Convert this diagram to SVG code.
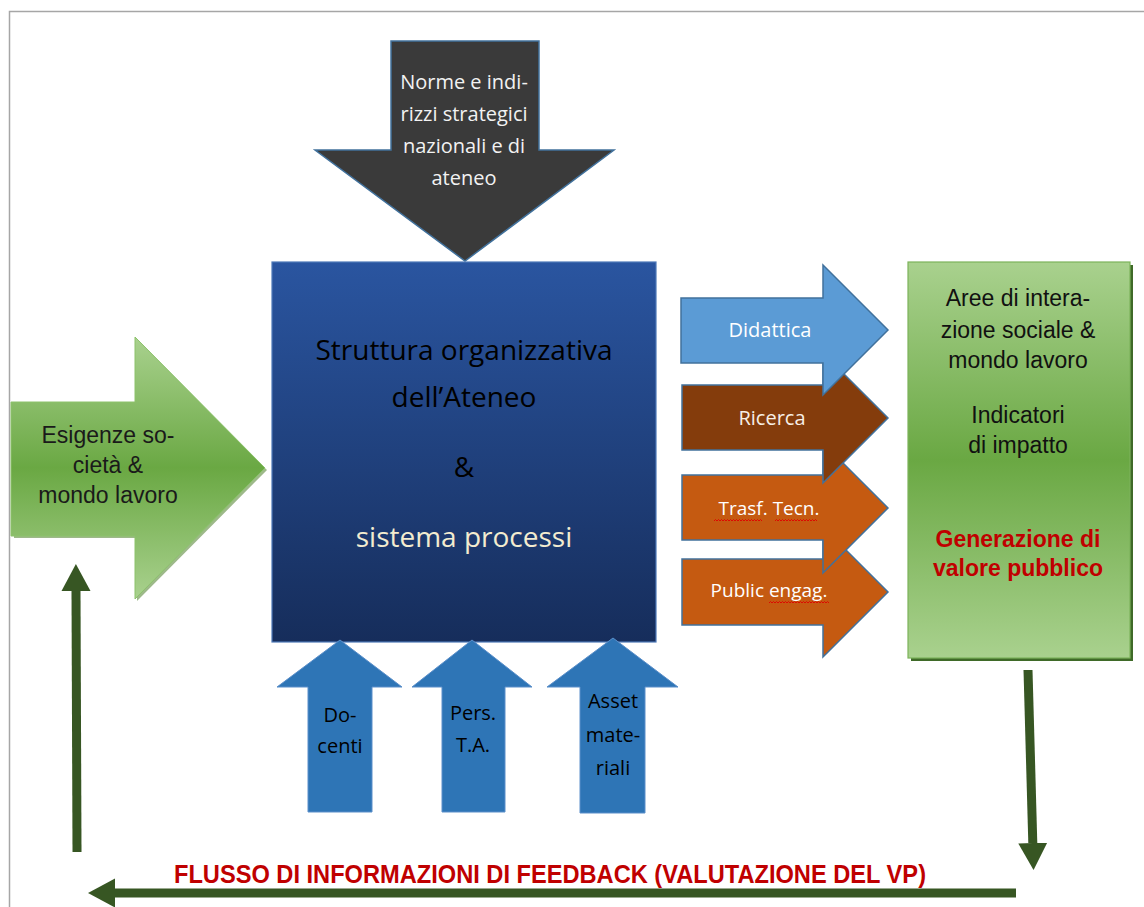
<svg xmlns="http://www.w3.org/2000/svg" width="1144" height="907" viewBox="0 0 1144 907">
<defs>
  <linearGradient id="gBlue" x1="0" y1="0" x2="0" y2="1">
    <stop offset="0" stop-color="#2a55a0"/>
    <stop offset="1" stop-color="#162d5b"/>
  </linearGradient>
  <linearGradient id="gGreen" x1="0" y1="0" x2="0" y2="1">
    <stop offset="0" stop-color="#a9d18e"/>
    <stop offset="0.5" stop-color="#6aa843"/>
    <stop offset="1" stop-color="#a9d18e"/>
  </linearGradient>
  <marker id="head" markerUnits="userSpaceOnUse" markerWidth="28" markerHeight="30" refX="0" refY="14.5" orient="auto">
    <path d="M0,0 L27,14.5 L0,29 z" fill="#375623"/>
  </marker>
  <style>
    .calibri { font-family: "Open Sans", "Noto Sans", sans-serif; }
    .arial { font-family: "Liberation Sans", Arial, sans-serif; }
    .outArrow { stroke: #41719c; stroke-width: 1.5; }
    .upArrow { fill: #2e75b6; stroke: #5b8fca; stroke-width: 1; }
    .fb { stroke: #375623; fill: none; marker-end: url(#head); }
    .squig { fill: none; stroke: #e00000; stroke-width: 0.9; }
  </style>
</defs>

<rect width="1144" height="907" fill="#ffffff"/>
<path d="M9.5,907 V11.5 H1144" fill="none" stroke="#a6a6a6" stroke-width="1.5"/>

<g id="norme">
  <polygon points="391,41 539,41 539,150 614,150 465,261 315,150 391,150" fill="#3a3a3a" stroke="#41719c" stroke-width="1.5"/>
  <g class="calibri" font-size="20" fill="#f2f2f2" text-anchor="middle">
    <text x="464" y="89">Norme e indi-</text>
    <text x="464" y="121">rizzi strategici</text>
    <text x="464" y="153">nazionali e di</text>
    <text x="464" y="185">ateneo</text>
  </g>
</g>

<g id="struttura">
  <rect x="272" y="262" width="384" height="380" fill="url(#gBlue)" stroke="#4d78b8" stroke-width="1.2"/>
  <g class="calibri" font-size="28" text-anchor="middle">
    <text x="464" y="360" fill="#000000">Struttura organizzativa</text>
    <text x="464" y="407" fill="#000000">dell’Ateneo</text>
    <text x="464" y="477" fill="#000000">&amp;</text>
    <text x="464" y="547" fill="#f3ecd0">sistema processi</text>
  </g>
</g>

<g id="esigenze">
  <polygon points="14,404 137,404 137,339 267,470 137,601 137,538 14,538" fill="#5b8a3a" opacity="0.6"/>
  <polygon points="11,402 135,402 135,337 265,468 135,599 135,536 11,536" fill="url(#gGreen)" stroke="#8cc26b" stroke-width="1"/>
  <g class="arial" font-size="23" fill="#1a1a1a" text-anchor="middle">
    <text x="108" y="443">Esigenze so-</text>
    <text x="108" y="473">cietà &amp;</text>
    <text x="108" y="503">mondo lavoro</text>
  </g>
</g>

<g id="public-engag">
  <polygon class="outArrow" points="682,559 823,559 823,527 888,592 823,657 823,625 682,625" fill="#c55a11"/>
  <text class="calibri" x="769" y="597" font-size="19" fill="#ffffff" text-anchor="middle">Public engag.</text>
  <polyline class="squig" points="769,603 770.5,601.5 772,603 773.5,601.5 775,603 776.5,601.5 778,603 779.5,601.5 781,603 782.5,601.5 784,603 785.5,601.5 787,603 788.5,601.5 790,603 791.5,601.5 793,603 794.5,601.5 796,603 797.5,601.5 799,603 800.5,601.5 802,603 803.5,601.5 805,603 806.5,601.5 808,603 809.5,601.5 811,603 812.5,601.5 814,603 815.5,601.5 817,603 818.5,601.5 820,603 821.5,601.5 823,603 824.5,601.5 826,603 827.5,601.5 829,603"/>
</g>

<g id="trasf-tecn">
  <polygon class="outArrow" points="682,475 823,475 823,443 888,508 823,573 823,540 682,540" fill="#c55a11"/>
  <text class="calibri" x="769" y="515" font-size="19" fill="#ffffff" text-anchor="middle">Trasf. Tecn.</text>
  <polyline class="squig" points="714,521 715.5,519.5 717,521 718.5,519.5 720,521 721.5,519.5 723,521 724.5,519.5 726,521 727.5,519.5 729,521 730.5,519.5 732,521 733.5,519.5 735,521 736.5,519.5 738,521 739.5,519.5 741,521 742.5,519.5 744,521 745.5,519.5 747,521 748.5,519.5 750,521 751.5,519.5 753,521 754.5,519.5 756,521 757.5,519.5 759,521 760.5,519.5 762,521"/>
  <polyline class="squig" points="775,521 776.5,519.5 778,521 779.5,519.5 781,521 782.5,519.5 784,521 785.5,519.5 787,521 788.5,519.5 790,521 791.5,519.5 793,521 794.5,519.5 796,521 797.5,519.5 799,521 800.5,519.5 802,521 803.5,519.5 805,521 806.5,519.5 808,521 809.5,519.5 811,521 812.5,519.5 814,521 815.5,519.5 817,521"/>
</g>

<g id="ricerca">
  <polygon class="outArrow" points="682,385 823,385 823,353 888,418 823,483 823,450 682,450" fill="#843c0c"/>
  <text class="calibri" x="772" y="425" font-size="20" fill="#f7efe6" text-anchor="middle">Ricerca</text>
</g>

<g id="didattica">
  <polygon class="outArrow" points="681,298 823,298 823,265 888,330 823,395 823,363 681,363" fill="#5b9bd5"/>
  <text class="calibri" x="770" y="337" font-size="20" fill="#ffffff" text-anchor="middle">Didattica</text>
</g>

<g id="aree">
  <rect x="911" y="265" width="222" height="396" fill="#3f6a28"/>
  <rect x="908" y="262" width="222" height="396" fill="url(#gGreen)" stroke="#7cb35a" stroke-width="1.2"/>
  <g class="arial" font-size="23" fill="#111111" text-anchor="middle">
    <text x="1018" y="306">Aree di intera-</text>
    <text x="1018" y="338">zione sociale &amp;</text>
    <text x="1018" y="368">mondo lavoro</text>
    <text x="1018" y="423">Indicatori</text>
    <text x="1018" y="453">di impatto</text>
  </g>
  <g class="arial" font-size="23" font-weight="bold" fill="#c00000" text-anchor="middle">
    <text x="1018" y="547">Generazione di</text>
    <text x="1018" y="576">valore pubblico</text>
  </g>
</g>

<g id="docenti">
  <polygon class="upArrow" points="340,640 402,687 372,687 372,812 308,812 308,687 277,687"/>
  <g class="calibri" font-size="20" fill="#000000" text-anchor="middle">
    <text x="340" y="722">Do-</text>
    <text x="340" y="753">centi</text>
  </g>
</g>

<g id="pers-ta">
  <polygon class="upArrow" points="472,640 532,687 505,687 505,812 442,812 442,687 412,687"/>
  <g class="calibri" font-size="20" fill="#000000" text-anchor="middle">
    <text x="473" y="720">Pers.</text>
    <text x="473" y="752">T.A.</text>
  </g>
</g>

<g id="asset">
  <polygon class="upArrow" points="613,638 678,687 645,687 645,813 580,813 580,687 547,687"/>
  <g class="calibri" font-size="20" fill="#000000" text-anchor="middle">
    <text x="613" y="708">Asset</text>
    <text x="613" y="742">mate-</text>
    <text x="613" y="775">riali</text>
  </g>
</g>

<g id="connectors">
  <line class="fb" x1="1028" y1="670" x2="1032.8" y2="843" stroke-width="9"/>
  <line class="fb" x1="1016" y1="893" x2="115" y2="893" stroke-width="9"/>
  <line class="fb" x1="77" y1="852" x2="76" y2="591" stroke-width="9"/>
</g>

<g id="feedback-label">
  <text class="arial" x="174" y="883" font-size="25" font-weight="bold" fill="#c00000" textLength="752" lengthAdjust="spacingAndGlyphs">FLUSSO DI INFORMAZIONI DI FEEDBACK (VALUTAZIONE DEL VP)</text>
</g>
</svg>
